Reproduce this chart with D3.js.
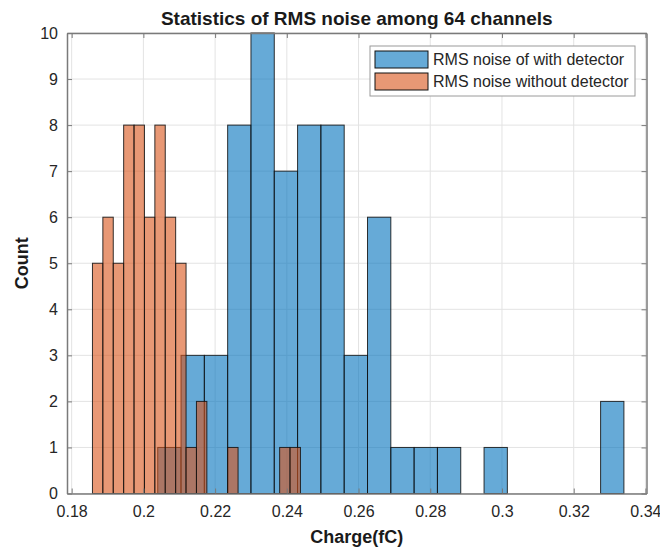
<!DOCTYPE html>
<html>
<head>
<meta charset="utf-8">
<script src="https://cdn.jsdelivr.net/npm/d3@7"></script>
<style>
  body { margin: 0; background: #fff; }
  text { font-family: "Liberation Sans", Arial, Helvetica, sans-serif; }
</style>
</head>
<body>
<div id="chart"></div>
<script>
// Histogram bins
const withStart = 0.2040;     // first bin edge, RMS noise with detector
const withWidth = 0.0065;     // bin width
const withCounts = [1, 3, 3, 8, 10, 7, 8, 8, 3, 6, 1, 1, 1, 0, 1, 0, 0, 0, 0, 2];

const withoutStart = 0.1858;  // first bin edge, RMS noise without detector
const withoutWidth = 0.0029;
const withoutCounts = [5, 6, 5, 8, 8, 6, 8, 6, 5, 1, 2, 0, 0, 1, 0, 0, 0, 0, 1, 1];

const xTicks = [0.18, 0.2, 0.22, 0.24, 0.26, 0.28, 0.3, 0.32, 0.34];
const yTicks = [0, 1, 2, 3, 4, 5, 6, 7, 8, 9, 10];
const seriesNames = ["RMS noise of with detector", "RMS noise without detector"];

// Turn start / width / counts into bar records
function makeBins(start, width, counts) {
    return counts.map((c, i) => ({ x0: start + i * width, x1: start + (i + 1) * width, count: c }))
        .filter(d => d.count > 0);
}
const withBins = makeBins(withStart, withWidth, withCounts);
const withoutBins = makeBins(withoutStart, withoutWidth, withoutCounts);

const W = 660, H = 552;
const plotLeft = 67, plotRight = 646.5, plotTop = 33, plotBottom = 493.5;

const svg = d3.select("#chart").append("svg")
    .attr("width", W)
    .attr("height", H);

svg.append("rect").attr("width", W).attr("height", H).attr("fill", "#fff");

// Scales
const x = d3.scaleLinear().domain([0.1787, 0.3403]).range([plotLeft, plotRight]);
const y = d3.scaleLinear().domain([0, 10]).range([plotBottom, plotTop]);

// Grid
svg.append("g")
    .selectAll("line")
    .data(xTicks)
    .enter().append("line")
    .attr("x1", d => x(d)).attr("x2", d => x(d))
    .attr("y1", plotTop).attr("y2", plotBottom)
    .attr("stroke", "#e3e3e3").attr("stroke-width", 1);

svg.append("g")
    .selectAll("line")
    .data(yTicks)
    .enter().append("line")
    .attr("x1", plotLeft).attr("x2", plotRight)
    .attr("y1", d => y(d)).attr("y2", d => y(d))
    .attr("stroke", "#e3e3e3").attr("stroke-width", 1);

// Bars, blue first then orange on top (both semi transparent)
function drawBars(bins, color) {
    svg.append("g")
        .selectAll("rect")
        .data(bins)
        .enter().append("rect")
        .attr("x", d => x(d.x0))
        .attr("y", d => y(d.count))
        .attr("width", d => x(d.x1) - x(d.x0))
        .attr("height", d => y(0) - y(d.count))
        .attr("fill", color)
        .attr("fill-opacity", 0.6)
        .attr("stroke", "#111")
        .attr("stroke-opacity", 0.85)
        .attr("stroke-width", 1);
}
drawBars(withBins, "rgb(0,114,189)");
drawBars(withoutBins, "rgb(217,83,25)");

// Axes (box on, ticks inward on all sides)
const axisColor = "#7a7a7a";
const xAxis = svg.append("g")
    .attr("transform", "translate(0," + plotBottom + ")")
    .call(d3.axisBottom(x).tickValues(xTicks).tickSizeInner(-5).tickSizeOuter(0).tickPadding(12)
        .tickFormat(d => d3.format("~g")(d)));
const xAxisTop = svg.append("g")
    .attr("transform", "translate(0," + plotTop + ")")
    .call(d3.axisTop(x).tickValues(xTicks).tickSizeInner(-5).tickSizeOuter(0).tickFormat(""));
const yAxis = svg.append("g")
    .attr("transform", "translate(" + plotLeft + ",0)")
    .call(d3.axisLeft(y).tickValues(yTicks).tickSizeInner(-5).tickSizeOuter(0).tickPadding(9));
const yAxisRight = svg.append("g")
    .attr("transform", "translate(" + plotRight + ",0)")
    .call(d3.axisRight(y).tickValues(yTicks).tickSizeInner(-5).tickSizeOuter(0).tickFormat(""));

[xAxis, xAxisTop, yAxis, yAxisRight].forEach(g => {
    g.select(".domain").attr("stroke", axisColor).attr("stroke-width", 1.5);
    g.selectAll(".tick line").attr("stroke", axisColor);
    g.selectAll("text")
        .attr("fill", "#262626")
        .style("font-size", "16px")
        .style("font-family", "'Liberation Sans', Arial, sans-serif");
});

// Title and axis labels
svg.append("text")
    .attr("x", (plotLeft + plotRight) / 2)
    .attr("y", 25)
    .attr("text-anchor", "middle")
    .style("font-size", "19px")
    .style("font-weight", "bold")
    .attr("fill", "#1a1a1a")
    .text("Statistics of RMS noise among 64 channels");

svg.append("text")
    .attr("x", (plotLeft + plotRight) / 2)
    .attr("y", 543)
    .attr("text-anchor", "middle")
    .style("font-size", "18px")
    .style("font-weight", "bold")
    .attr("fill", "#1a1a1a")
    .text("Charge(fC)");

svg.append("text")
    .attr("transform", "translate(28," + (plotTop + plotBottom) / 2 + ") rotate(-90)")
    .attr("text-anchor", "middle")
    .style("font-size", "18px")
    .style("font-weight", "bold")
    .attr("fill", "#1a1a1a")
    .text("Count");

// Legend
const legend = svg.append("g").attr("transform", "translate(370,46)");

legend.append("rect")
    .attr("width", 265).attr("height", 50)
    .attr("fill", "#fff")
    .attr("stroke", "#9a9a9a").attr("stroke-width", 1);

const legendColors = ["rgb(0,114,189)", "rgb(217,83,25)"];
seriesNames.forEach((name, i) => {
    legend.append("rect")
        .attr("x", 5).attr("y", 5 + i * 22)
        .attr("width", 53).attr("height", 17)
        .attr("fill", legendColors[i]).attr("fill-opacity", 0.6)
        .attr("stroke", "#111").attr("stroke-width", 1);
    legend.append("text")
        .attr("x", 63).attr("y", 19 + i * 22)
        .style("font-size", "16px")
        .attr("fill", "#262626")
        .text(name);
});
</script>
</body>
</html>
